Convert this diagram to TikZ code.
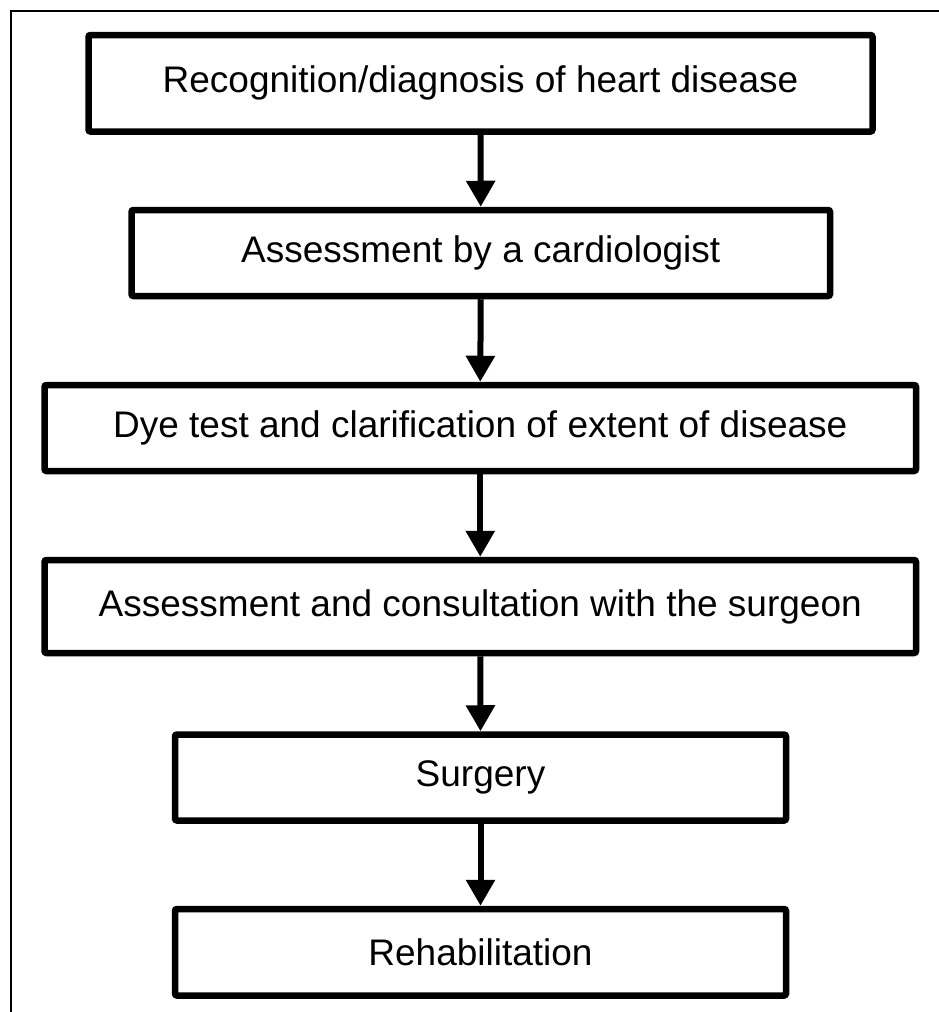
\documentclass[tikz,border=0pt]{standalone}
\usepackage{fontspec}
\setmainfont{Liberation Sans}
\usetikzlibrary{arrows.meta}
\begin{document}
\begin{tikzpicture}[x=1pt,y=-1pt,
  stepbox/.style={draw=black,line width=6.5pt,rounded corners=2pt,inner sep=0pt,
    font=\fontsize{37}{40}\selectfont,text=black},
  flow/.style={line width=6pt,-{Triangle[width=28pt,length=26pt]}},
  frameline/.style={line width=1.6pt,draw=black}]
\useasboundingbox (0,0) rectangle (939,1012);
\draw[frameline] (11,1014) -- (11,11) -- (941,11);
\node[stepbox,minimum width=784pt,minimum height=96.5pt] (b1) at (480.5,83.25) {Recognition/diagnosis of heart disease};
\node[stepbox,minimum width=698.5pt,minimum height=86pt] (b2) at (480.75,253) {Assessment by a cardiologist};
\node[stepbox,minimum width=871.5pt,minimum height=86pt] (b3) at (480.25,428) {Dye test and clarification of extent of disease};
\node[stepbox,minimum width=871.5pt,minimum height=93pt] (b4) at (480.25,606.5) {Assessment and consultation with the surgeon};
\node[stepbox,minimum width=611pt,minimum height=86pt] (b5) at (480.5,777.5) {Surgery};
\node[stepbox,minimum width=611pt,minimum height=86.5pt] (b6) at (480.5,952.25) {Rehabilitation};
\foreach \a/\b in {b1/b2,b2/b3,b3/b4,b4/b5,b5/b6}
  \draw[flow] (\a.south) -- (\b.north);
\end{tikzpicture}
\end{document}
